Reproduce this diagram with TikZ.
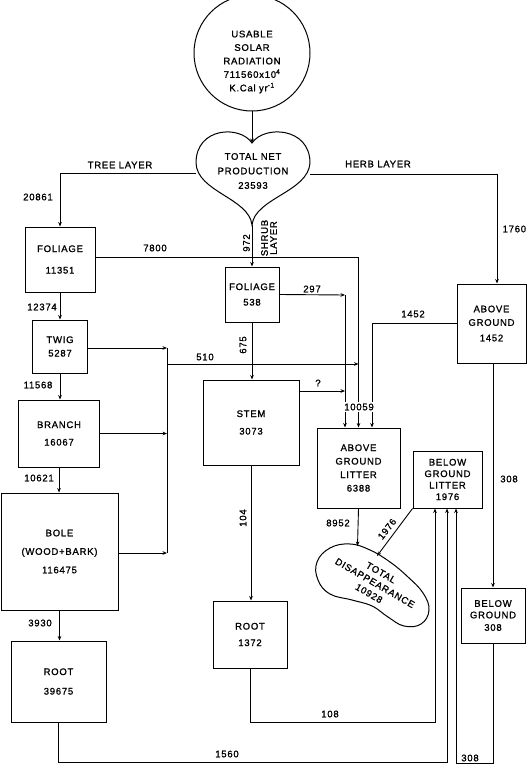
\documentclass[tikz,border=0pt]{standalone}
\usepackage{fontspec}
\setmainfont{Liberation Sans}[LetterSpace=8, FakeBold=1.2]
\usetikzlibrary{arrows.meta}
\begin{document}
\begin{tikzpicture}[x=1pt,y=-1pt, line width=0.9pt,
  every node/.style={font=\fontsize{9.5}{11.5}\selectfont, inner sep=1pt},
  arr/.style={-{Stealth[length=4.5pt,width=3.6pt]}},
  box/.style={draw, line width=1pt, inner sep=0pt, align=center},
  lbl/.style={inner sep=1pt},
  wl/.style={fill=white, inner sep=1.5pt}
]
\useasboundingbox (0,0) rectangle (527,767);

% ---------- source circle and heart ----------
\node[draw, circle, line width=1pt, minimum size=116pt, inner sep=0pt] (sun) at (252,53) {};
\node[align=center] (suntext) at (252,62) {USABLE\\[2pt]SOLAR\\[2pt]RADIATION\\[2pt]711560x10\textsuperscript{4}\\[2pt]K.Cal yr\textsuperscript{-1}};

\draw[line width=1pt] (252,143) .. controls (240,125) and (196,127) .. (196,163)
  .. controls (197,192) and (249,198) .. (252,225)
  .. controls (255,198) and (308,192) .. (310,163)
  .. controls (310,127) and (264,125) .. (252,143) -- cycle;
\node[align=center] (tnp) at (253,171) {TOTAL NET\\[3pt]PRODUCTION\\[3pt]23593};
\coordinate (hd) at (252,143);
\coordinate (hb) at (252,225);
\coordinate (hl) at (196,173);
\coordinate (hr) at (310,174);

% ---------- boxes ----------
\node[box, minimum width=70pt, minimum height=65pt] (fol1) at (60,259.5) {FOLIAGE\\[10pt]11351};
\node[box, minimum width=55pt, minimum height=53pt] (twig) at (60,346.5) {TWIG\\[2pt]5287};
\node[box, minimum width=81pt, minimum height=67pt] (branch) at (59,433.5) {BRANCH\\[6pt]16067};
\node[box, minimum width=117pt, minimum height=117pt] (bole) at (59.5,551.5) {BOLE\\[7pt](WOOD+BARK)\\[7pt]116475};
\node[box, minimum width=95pt, minimum height=81pt] (root1) at (58.5,681.5) {ROOT\\[8pt]39675};

\node[box, minimum width=54pt, minimum height=55pt] (fol2) at (252,294.5) {FOLIAGE\\[4pt]538};
\node[box, minimum width=96pt, minimum height=85pt] (stem) at (251,422.5) {STEM\\[6pt]3073};
\node[box, minimum width=74pt, minimum height=67pt] (root2) at (250,634.5) {ROOT\\[5pt]1372};

\node[box, minimum width=83pt, minimum height=80pt] (agl) at (358.5,468) {ABOVE\\[2pt]GROUND\\[2pt]LITTER\\[2pt]6388};
\node[box, minimum width=69pt, minimum height=57pt] (bgl) at (447.5,479.5) {BELOW\\GROUND\\LITTER\\1976};
\node[box, minimum width=69pt, minimum height=79pt] (ag) at (491.5,323.5) {ABOVE\\[2pt]GROUND\\[4pt]1452};
\node[box, minimum width=64pt, minimum height=55pt] (bg) at (493,615.5) {BELOW\\GROUND\\[1pt]308};

% ---------- total disappearance blob ----------
\draw[line width=1pt] plot[smooth cycle, tension=0.7] coordinates {(317,562) (330,548) (350,544) (370,550) (390,562) (408,577) (423,593) (429,610) (421,624) (404,626) (388,617) (372,606) (352,600) (330,594) (318,580)};
\node[rotate=-30, align=center, inner sep=0pt, font=\fontsize{9.5}{11}\selectfont] (td) at (375,583) {TOTAL\\[1pt]DISAPPEARANCE\\[1pt]10928};
\coordinate (tdin1) at (357.5,546);
\coordinate (tdin2) at (377,556);

% ---------- main connectors ----------
\draw[arr] (sun.south) -- (hd);
\draw[arr] (hl) -| (fol1.north);
\draw[arr] (hr) -| ([xshift=5.5pt]ag.north);
\draw[arr] (hb) -- (fol2.north);

% tree chain
\draw[arr] (fol1.south) -- (fol1.south |- twig.north);
\draw[arr] (twig.south) -- (twig.south |- branch.north);
\draw[arr] (branch.south) -- (branch.south |- bole.north);
\draw[arr] (bole.south) -- (bole.south |- root1.north);

% tree collector
\coordinate (c1) at (167,348);
\coordinate (c2) at (167,553);
\coordinate (c3) at (167,364);
\draw[arr] ([yshift=-1.5pt]twig.east) -- ([yshift=-1.5pt]twig.east -| c1);
\draw[arr] (branch.east) -- (branch.east -| c1);
\draw[arr] ([yshift=-1.5pt]bole.east) -- ([yshift=-1.5pt]bole.east -| c1);
\draw (c1) -- (c2);
\draw[arr] (c3) -- (c3 -| agl.north);

% foliage 11351 to litter
\draw[arr] ([yshift=2.5pt]fol1.east) -| (agl.north);

% shrub
\draw[arr] (fol2.south) -- (fol2.south |- stem.north);
\coordinate (k1) at (345,295);
\coordinate (k2) at (345,391);
\draw[arr] (fol2.east) -- (k1);
\draw[arr] (k1) -- (k1 |- agl.north);
\draw[arr] (stem.east |- k2) -- (k2);
\draw[arr] (stem.south) -- (stem.south |- root2.north);

% herb
\draw[arr] (ag.west) -| ([xshift=13.5pt]agl.north);
\draw[arr] (bg.north |- ag.south) -- (bg.north);

% litter to disappearance
\draw[arr] (agl.south) -- (tdin1);
\draw[arr] (bgl.south west) -- (tdin2);

% below-ground returns
\coordinate (b1) at (435,722);
\coordinate (b2) at (447,762);
\coordinate (b3) at (456,763);
\draw[arr] (root2.south) |- (b1) -- (b1 |- bgl.south);
\draw[arr] (root1.south) |- (b2) -- (b2 |- bgl.south);
\draw[arr] (bg.south) |- (b3) -- (b3 |- bgl.south);

% ---------- labels ----------
\node[lbl] (lt) at (120,165) {TREE LAYER};
\node[lbl] (lh) at (378,164) {HERB LAYER};
\node[lbl] (l20861) at (38,197) {20861};
\node[lbl, anchor=east, inner sep=0.5pt] (l1760) at (527,229) {1760};
\node[lbl, rotate=90] (l972) at (246.5,243) {972};
\node[lbl, rotate=90, align=center, font=\fontsize{9.5}{9}\selectfont] (lshrub) at (269,238) {SHRUB\\LAYER};
\node[lbl] (l7800) at (155,248) {7800};
\node[lbl] (l12374) at (42,307) {12374};
\node[lbl] (l11568) at (38,385) {11568};
\node[lbl] (l10621) at (39,478) {10621};
\node[lbl] (l3930) at (40,623) {3930};
\node[lbl] (l510) at (205,357) {510};
\node[lbl] (l297) at (312,289) {297};
\node[lbl, rotate=90] (l675) at (243,345) {675};
\node[lbl] (lq) at (318,383) {?};
\node[lbl, rotate=90] (l104) at (243,518) {104};
\node[wl] (l10059) at (359,407) {10059};
\node[lbl] (l1452) at (413,314) {1452};
\node[lbl] (l308a) at (509,479) {308};
\node[lbl] (l8952) at (338,523) {8952};
\node[lbl, rotate=52] (l1976) at (387,529) {1976};
\node[lbl] (l108) at (330,714) {108};
\node[lbl] (l1560) at (227,754) {1560};
\node[lbl] (l308b) at (470,758) {308};
\end{tikzpicture}
\end{document}
